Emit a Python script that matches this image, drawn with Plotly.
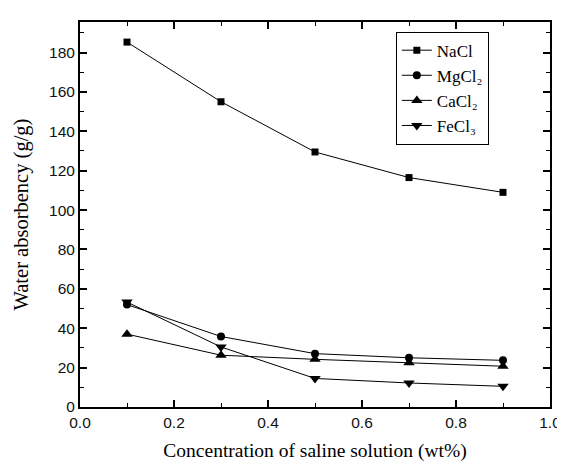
import plotly.graph_objects as go

conc = [0.1, 0.3, 0.5, 0.7, 0.9]
nacl = [185.3, 155.0, 129.5, 116.5, 109.0]
mgcl2 = [52.0, 35.8, 27.1, 25.0, 23.7]
cacl2 = [37.0, 26.3, 24.2, 22.5, 20.7]
fecl3 = [53.3, 30.5, 14.5, 12.2, 10.5]

names = ["NaCl", "MgCl\u2082", "CaCl\u2082", "FeCl\u2083"]
series = [nacl, mgcl2, cacl2, fecl3]
symbols = ["square", "circle", "triangle-up", "triangle-down"]
sizes = [7, 8, 10, 10]

fig = go.Figure()
for n, s, sym, sz in zip(names, series, symbols, sizes):
    fig.add_trace(go.Scatter(x=conc, y=s, mode="lines+markers", name=n,
                             line=dict(color="black", width=1),
                             marker=dict(symbol=sym, size=sz, color="black")))

axis_common = dict(showline=True, linecolor="black", linewidth=2, mirror="ticks",
                   ticks="inside", ticklen=7, tickwidth=1.5, tickcolor="black",
                   showgrid=False, zeroline=False,
                   tickfont=dict(family="Liberation Sans, Arial", size=15.5, color="#111"))

fig.update_xaxes(range=[0, 1.0], dtick=0.2, tickformat=".1f",
                 minor=dict(ticks="inside", dtick=0.1, ticklen=4, tickcolor="black", tickwidth=1),
                 title=dict(text="Concentration of saline solution (wt%)",
                            font=dict(family="Liberation Serif, Times New Roman", size=19.5, color="black"),
                            standoff=14),
                 **axis_common)
fig.update_yaxes(range=[0, 195.5], dtick=20,
                 minor=dict(ticks="inside", dtick=10, ticklen=4, tickcolor="black", tickwidth=1),
                 title=dict(text="Water absorbency (g/g)",
                            font=dict(family="Liberation Serif, Times New Roman", size=20.5, color="black"),
                            standoff=15),
                 **axis_common)

fig.update_layout(width=565, height=462, margin=dict(l=70, r=13, t=12, b=59),
                  plot_bgcolor="white", paper_bgcolor="white", showlegend=True,
                  legend=dict(x=0.672, y=0.975, xanchor="left", yanchor="top",
                              bordercolor="black", borderwidth=1, bgcolor="white",
                              font=dict(family="Liberation Serif, Times New Roman", size=17, color="black"),
                              tracegroupgap=0, itemwidth=30))

fig.write_html("out.html")
